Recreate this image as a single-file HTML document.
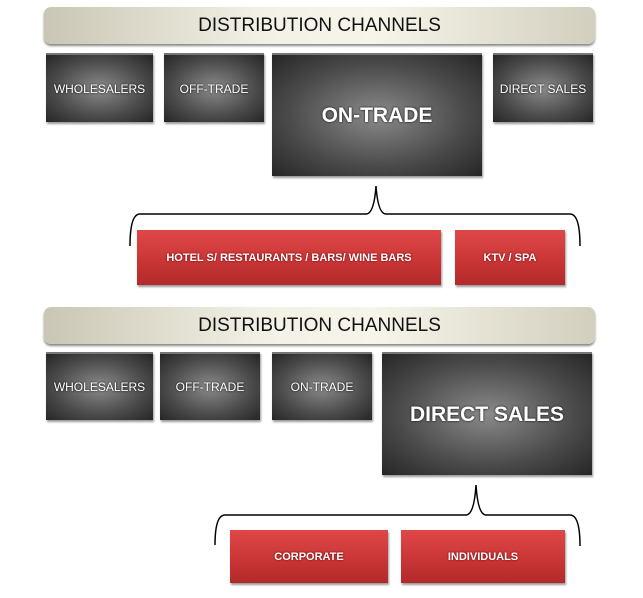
<!DOCTYPE html>
<html><head><meta charset="utf-8"><style>
body{margin:0;width:643px;height:598px;background:#fff;position:relative;overflow:hidden;font-family:"Liberation Sans",sans-serif}
.t{position:absolute;left:44px;width:551px;height:37px;border-radius:7px;background:linear-gradient(to right,#c9c6b4,#f3f1e6 40%,#f7f5ea 60%,#d2cfbe);box-shadow:0 2px 2px #888;display:flex;align-items:center;justify-content:center;font-size:19px;color:#111}
.b{position:absolute;background:radial-gradient(ellipse at center,#8a8a8a 0%,#4a4a4a 60%,#262626 100%);box-shadow:1px 2px 2px #999;display:flex;align-items:center;justify-content:center;color:#fff;font-size:12px;text-shadow:0 0 2px #000;border-top:2px solid #777;box-sizing:border-box}
.big{font-weight:bold;font-size:21px}
.r{position:absolute;background:linear-gradient(#e04848,#c83434 60%,#b12a2a);box-shadow:1px 2px 2px #999;display:flex;align-items:center;justify-content:center;color:#fff;font-weight:bold;font-size:11px;text-shadow:0 0 2px #600}
svg{position:absolute;left:0;top:0}
</style></head><body>
<div class="t" style="top:7px">DISTRIBUTION CHANNELS</div>
<div class="b" style="left:46px;top:53px;width:107px;height:69px">WHOLESALERS</div>
<div class="b" style="left:164px;top:53px;width:100px;height:69px">OFF-TRADE</div>
<div class="b big" style="left:272px;top:53px;width:210px;height:123px">ON-TRADE</div>
<div class="b" style="left:493px;top:53px;width:100px;height:69px">DIRECT SALES</div>
<svg width="643" height="598"><path d="M130 246 Q130 214 140 214 L366 214 Q374 214 376 186 Q378 214 386 214 L570 214 Q580 214 580 246" fill="none" stroke="#000" stroke-width="1.5"/>
<path d="M215 545 Q215 515 225 515 L466 515 Q474 515 476 485 Q478 515 486 515 L570 515 Q580 515 580 546" fill="none" stroke="#000" stroke-width="1.5"/></svg>
<div class="r" style="left:137px;top:230px;width:304px;height:55px">HOTEL S/ RESTAURANTS / BARS/ WINE BARS</div>
<div class="r" style="left:455px;top:230px;width:110px;height:55px">KTV / SPA</div>
<div class="t" style="top:307px">DISTRIBUTION CHANNELS</div>
<div class="b" style="left:46px;top:352px;width:107px;height:68px">WHOLESALERS</div>
<div class="b" style="left:160px;top:352px;width:100px;height:68px">OFF-TRADE</div>
<div class="b" style="left:272px;top:352px;width:100px;height:68px">ON-TRADE</div>
<div class="b big" style="left:382px;top:352px;width:210px;height:123px">DIRECT SALES</div>
<div class="r" style="left:230px;top:530px;width:158px;height:53px">CORPORATE</div>
<div class="r" style="left:401px;top:530px;width:164px;height:53px">INDIVIDUALS</div>
</body></html>
